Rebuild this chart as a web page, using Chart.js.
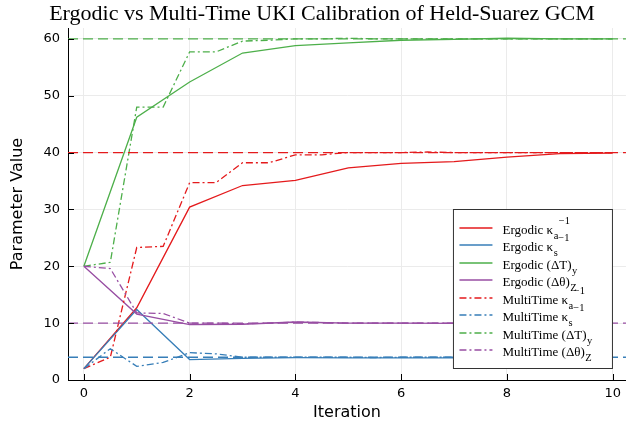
<!DOCTYPE html>
<html>
<head>
<meta charset="utf-8">
<script src="https://cdn.jsdelivr.net/npm/chart.js@4/dist/chart.umd.min.js"></script>
<style>
  html, body { margin: 0; padding: 0; background: #fff; }
  canvas { display: block; }
</style>
</head>
<body>
<canvas id="chart" width="627" height="428"></canvas>
<script>
// data
const titleText = 'Ergodic vs Multi-Time UKI Calibration of Held-Suarez GCM';
const xTitle = 'Iteration';
const yTitle = 'Parameter Value';

const iters = [0, 1, 2, 3, 4, 5, 6, 7, 8, 9, 10];
const multiIters = [0, 0.5, 1, 1.5, 2, 2.5, 3, 3.5, 4, 4.5, 5, 5.5, 6, 6.5, 7, 7.5, 8, 8.5, 9, 9.5, 10];

const ergodicKa  = [2, 12.7, 30.4, 34.2, 35.1, 37.3, 38.1, 38.4, 39.2, 39.8, 39.9];
const ergodicKs  = [2, 12.4, 3.6, 3.8, 3.95, 3.9, 3.9, 3.9, 3.95, 4.0, 4.0];
const ergodicDT  = [20, 46.2, 52.4, 57.5, 58.8, 59.3, 59.75, 59.9, 60.1, 60.0, 60.0];
const ergodicDth = [20, 11.6, 9.75, 9.8, 10.2, 10.0, 10.0, 9.95, 10.0, 10.0, 10.0];

const multiKa  = [2, 4.0, 23.3, 23.5, 34.7, 34.7, 38.2, 38.2, 39.6, 39.6, 40.0, 40.0, 40.0, 40.1, 40.0, 40.0, 40.0, 40.0, 40.0, 40.0, 40.0];
const multiKs  = [2, 5.5, 2.4, 3.1, 4.8, 4.6, 4.0, 4.0, 4.0, 4.0, 4.0, 3.95, 4.0, 4.0, 4.0, 4.0, 4.0, 4.0, 4.0, 4.0, 4.0];
const multiDT  = [20, 20.7, 48.0, 48.0, 57.7, 57.7, 59.6, 59.75, 60.0, 60.0, 60.1, 60.0, 60.0, 60.0, 60.0, 60.0, 60.0, 60.0, 60.0, 60.0, 60.0];
const multiDth = [20, 19.6, 11.8, 11.7, 10.0, 10.0, 9.9, 10.0, 10.2, 10.1, 10.0, 10.0, 10.0, 10.0, 10.0, 10.0, 10.0, 10.0, 10.0, 10.0, 10.0];

const truthValues = [40, 4, 60, 10];

const ergodicLabels = ['Ergodic κ_a^{−1}', 'Ergodic κ_s^{−1}', 'Ergodic (ΔT)_y', 'Ergodic (Δθ)_Z'];
const multiLabels = ['MultiTime κ_a^{−1}', 'MultiTime κ_s^{−1}', 'MultiTime (ΔT)_y', 'MultiTime (Δθ)_Z'];

const xTicks = [0, 2, 4, 6, 8, 10];
const yTicks = [0, 10, 20, 30, 40, 50, 60];
const xMin = -0.3, xMax = 10.25;
const yMin = 0, yMax = 61.9;

const colors = ['#e41a1c', '#377eb8', '#4daf4a', '#984ea3'];
const dashDot = [7, 3, 2, 3];
const dashed = [10, 5];

function pairs(xs, ys) {
    return ys.map((y, i) => ({ x: xs[i], y: y }));
}

const ergodicSeries = [ergodicKa, ergodicKs, ergodicDT, ergodicDth];
const multiSeries = [multiKa, multiKs, multiDT, multiDth];

const datasets = [];
ergodicSeries.forEach((s, i) => datasets.push({
    label: ergodicLabels[i], data: pairs(iters, s),
    borderColor: colors[i], borderDash: []
}));
multiSeries.forEach((s, i) => datasets.push({
    label: multiLabels[i], data: pairs(multiIters, s),
    borderColor: colors[i], borderDash: dashDot
}));
truthValues.forEach((v, i) => datasets.push({
    label: '', data: [{ x: xMin, y: v }, { x: xMax, y: v }],
    borderColor: colors[i], borderDash: dashed, inLegend: false
}));
// later series drawn on top, like the original
datasets.forEach((d, i) => {
    d.order = datasets.length - i;
    d.borderWidth = 1.3;
    d.pointRadius = 0;
    d.tension = 0;
    d.fill = false;
});

// splits "text_sub^{sup}" into pieces for the legend
function parseLabel(str) {
    const m = str.match(/^([^_]*)_([^\^]+)(?:\^\{([^}]*)\})?$/);
    if (!m) return { base: str, sub: '', sup: '' };
    return { base: m[1], sub: m[2], sup: m[3] || '' };
}

const decorPlugin = {
    id: 'decor',
    afterDatasetsDraw(chart) {
        const ctx = chart.ctx;
        const a = chart.chartArea;
        const xs = chart.scales.x, ys = chart.scales.y;
        ctx.save();
        // inner tick marks
        ctx.strokeStyle = '#000';
        ctx.lineWidth = 1;
        ctx.beginPath();
        xTicks.forEach(v => {
            const px = Math.round(xs.getPixelForValue(v)) + 0.5;
            ctx.moveTo(px, a.bottom); ctx.lineTo(px, a.bottom - 6);
        });
        yTicks.forEach(v => {
            const py = Math.round(ys.getPixelForValue(v)) + 0.5;
            ctx.moveTo(a.left, py); ctx.lineTo(a.left + 6, py);
        });
        ctx.stroke();
        ctx.restore();
    },
    afterDraw(chart) {
        const ctx = chart.ctx;
        const a = chart.chartArea;
        ctx.save();
        // title
        ctx.fillStyle = '#000';
        ctx.font = '22px "Liberation Serif"';
        ctx.textAlign = 'center';
        ctx.textBaseline = 'middle';
        ctx.fillText(titleText, 322, 14);

        // legend
        const items = chart.data.datasets.filter(d => d.inLegend !== false);
        const boxW = 159, boxH = 159;
        const bx = a.right - 14 - boxW + 0.5, by = a.bottom - 12 - boxH + 0.5;
        ctx.fillStyle = '#fff';
        ctx.fillRect(bx, by, boxW, boxH);
        ctx.strokeStyle = '#333';
        ctx.lineWidth = 1;
        ctx.setLineDash([]);
        ctx.strokeRect(bx, by, boxW, boxH);

        ctx.textAlign = 'left';
        ctx.textBaseline = 'alphabetic';
        items.forEach((d, i) => {
            const rowY = by + 18 + i * 17.5;
            ctx.strokeStyle = d.borderColor;
            ctx.lineWidth = 1.6;
            ctx.setLineDash(d.borderDash);
            ctx.beginPath();
            ctx.moveTo(bx + 6, Math.round(rowY));
            ctx.lineTo(bx + 39, Math.round(rowY));
            ctx.stroke();
            ctx.setLineDash([]);

            const p = parseLabel(d.label);
            const base = rowY + 6;
            let tx = bx + 49;
            ctx.fillStyle = '#000';
            ctx.font = '13px "Liberation Serif"';
            ctx.fillText(p.base, tx, base);
            tx += ctx.measureText(p.base).width + 0.5;
            ctx.font = '10.5px "Liberation Serif"';
            if (p.sub) {
                ctx.fillText(p.sub, tx, base + 5);
                tx += ctx.measureText(p.sub).width + 0.5;
            }
            if (p.sup) {
                ctx.fillText(p.sup, tx, base - 10);
            }
        });
        ctx.restore();
    }
};

const tickFont = { family: '"DejaVu Sans"', size: 13 };
const titleFont = { family: '"DejaVu Sans"', size: 16 };

new Chart(document.getElementById('chart'), {
    type: 'line',
    data: { datasets: datasets },
    options: {
        responsive: false,
        animation: false,
        devicePixelRatio: 1,
        layout: { padding: { top: 28, left: 0, right: 0, bottom: 0 } },
        plugins: {
            legend: { display: false },
            tooltip: { enabled: false },
            title: { display: false }
        },
        scales: {
            x: {
                type: 'linear',
                min: xMin,
                max: xMax,
                afterBuildTicks: s => { s.ticks = xTicks.map(v => ({ value: v })); },
                afterFit: s => { s.height = 48; },
                grid: { color: '#ebebeb', lineWidth: 1, drawTicks: false },
                border: { color: '#000', width: 1 },
                ticks: { color: '#000', font: tickFont, padding: 6, autoSkip: false, maxRotation: 0 },
                title: { display: true, text: xTitle, color: '#000', font: titleFont, padding: { top: 0, bottom: 6 } }
            },
            y: {
                type: 'linear',
                min: yMin,
                max: yMax,
                afterBuildTicks: s => { s.ticks = yTicks.map(v => ({ value: v })); },
                afterFit: s => { s.width = 68; },
                grid: { color: '#ebebeb', lineWidth: 1, drawTicks: false },
                border: { color: '#000', width: 1 },
                ticks: { color: '#000', font: tickFont, padding: 8, autoSkip: false },
                title: { display: true, text: yTitle, color: '#000', font: titleFont, padding: { top: 8, bottom: 0 } }
            }
        }
    },
    plugins: [decorPlugin]
});
</script>
</body>
</html>
